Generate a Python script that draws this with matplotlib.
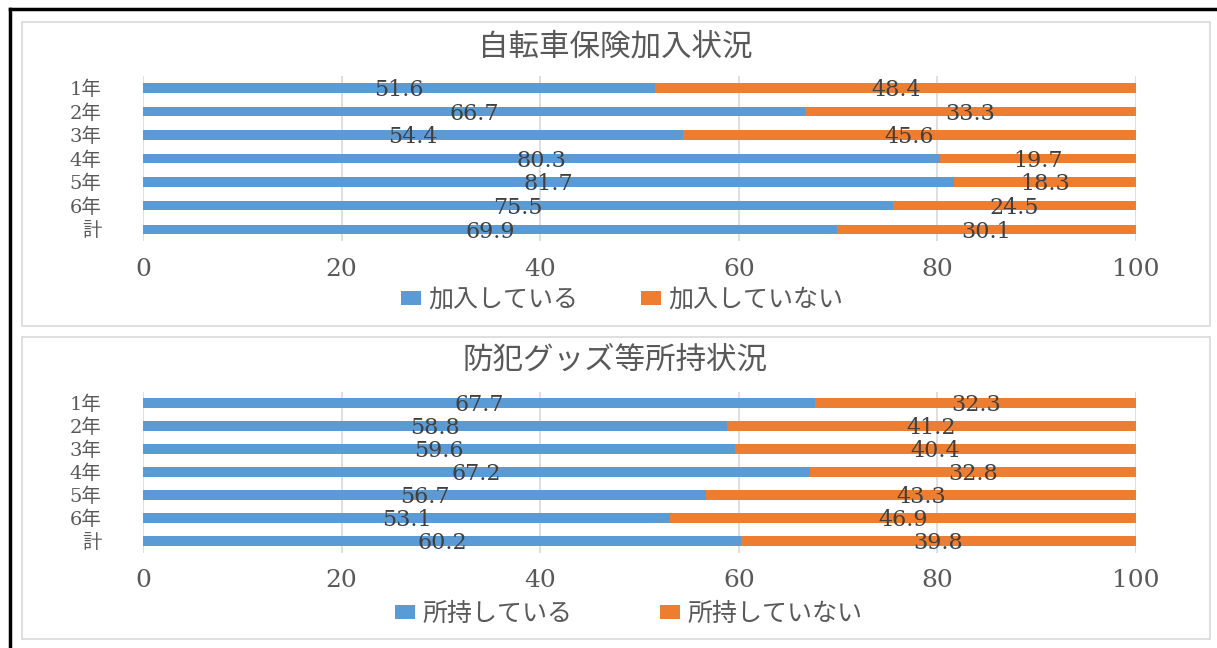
"""Stacked horizontal bar charts: bicycle insurance and crime-prevention goods."""

import matplotlib.pyplot as plt
from matplotlib.lines import Line2D
from matplotlib.patches import Rectangle

W, H = 1217, 648

grades = ["1年", "2年", "3年", "4年", "5年", "6年", "計"]

insured = [51.6, 66.7, 54.4, 80.3, 81.7, 75.5, 69.9]
not_insured = [48.4, 33.3, 45.6, 19.7, 18.3, 24.5, 30.1]

owns_goods = [67.7, 58.8, 59.6, 67.2, 56.7, 53.1, 60.2]
no_goods = [32.3, 41.2, 40.4, 32.8, 43.3, 46.9, 39.8]

BLUE = "#5b9bd5"
ORANGE = "#ed7d31"
GRAY = "#595959"
GRID = "#d9d9d9"
JP = ["Noto Sans CJK JP", "DejaVu Sans"]
NUM = ["DejaVu Serif", "Noto Sans CJK JP"]


def px_box(x0, y0, x1, y1):
    return [x0 / W, 1 - y1 / H, (x1 - x0) / W, (y1 - y0) / H]


def draw_panel(fig, box, title, title_y, yes, no, labels, legend_x, legend_y, colsp):
    ax = fig.add_axes(px_box(*box))
    ypos = range(len(grades))
    ax.barh(ypos, yes, height=0.4, color=BLUE, label=labels[0], zorder=2)
    ax.barh(ypos, no, left=yes, height=0.4, color=ORANGE, label=labels[1], zorder=2)
    for i, (a, b) in enumerate(zip(yes, no)):
        ax.text(a / 2, i + 0.1, f"{a}", ha="center", va="center",
                fontsize=16, color="#404040", family=NUM, zorder=3)
        ax.text(a + b / 2, i + 0.1, f"{b}", ha="center", va="center",
                fontsize=16, color="#404040", family=NUM, zorder=3)
    ax.set_xlim(0, 100)
    ax.set_ylim(len(grades) - 0.5, -0.5)
    ax.set_xticks(range(0, 101, 20))
    ax.set_yticks(list(ypos))
    ax.set_yticklabels(grades, family=NUM, fontsize=14, color=GRAY)
    for lab in ax.get_xticklabels():
        lab.set_family(NUM)
        lab.set_fontsize(18)
        lab.set_color(GRAY)
    ax.tick_params(axis="x", length=0, pad=12)
    ax.tick_params(axis="y", length=0, pad=30)
    ax.grid(axis="x", color=GRID, linewidth=1.2, zorder=0)
    for s in ax.spines.values():
        s.set_visible(False)
    fig.text(615 / W, 1 - title_y / H, title, ha="center", va="center",
             fontsize=22, color=GRAY, family=JP)
    ax.legend(loc="center", bbox_to_anchor=(legend_x / W, 1 - legend_y / H),
              bbox_transform=fig.transFigure, ncol=2, frameon=False,
              handlelength=0.8, handleheight=0.45, handletextpad=0.3,
              columnspacing=colsp, prop={"family": JP, "size": 18},
              labelcolor=GRAY)
    return ax


fig = plt.figure(figsize=(W / 100, H / 100), dpi=100)

# panel frames
for y0, y1 in [(22, 326), (337, 639)]:
    fig.patches.append(Rectangle((22 / W, 1 - y1 / H), (1210 - 22) / W, (y1 - y0) / H,
                                 transform=fig.transFigure, fill=False,
                                 edgecolor=GRID, linewidth=1.2))
# outer black border (top and left)
fig.lines.append(Line2D([10 / W, 1], [1 - 9 / H, 1 - 9 / H], transform=fig.transFigure,
                        color="black", linewidth=2.5))
fig.lines.append(Line2D([10 / W, 10 / W], [0, 1 - 9 / H], transform=fig.transFigure,
                        color="black", linewidth=2.5))

draw_panel(fig, (143, 76, 1136, 241), "自転車保険加入状況", 47,
           insured, not_insured, ["加入している", "加入していない"], 622, 300, 2.5)
draw_panel(fig, (143, 391.5, 1136, 552.5), "防犯グッズ等所持状況", 360,
           owns_goods, no_goods, ["所持している", "所持していない"], 629, 614, 3.5)

fig.savefig("out.png", dpi=100)
